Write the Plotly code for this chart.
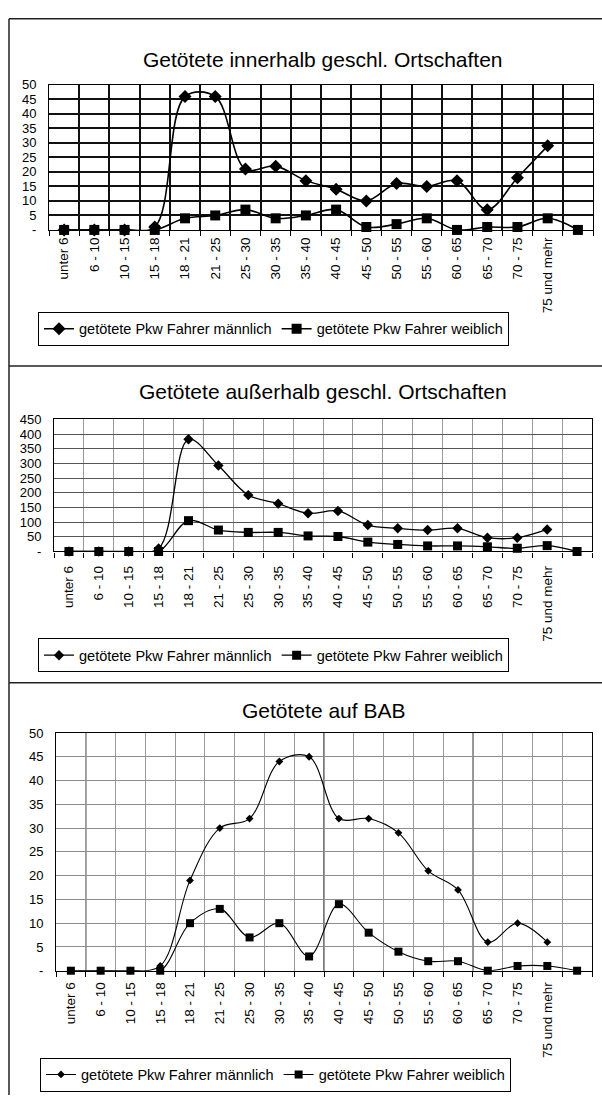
import plotly.graph_objects as go

W, H = 602, 1103
FONT = "Liberation Sans, Arial, sans-serif"

# Age groups (the last slot carries no label)
age_groups = ["unter 6", "6 - 10", "10 - 15", "15 - 18", "18 - 21", "21 - 25",
              "25 - 30", "30 - 35", "35 - 40", "40 - 45", "45 - 50", "50 - 55",
              "55 - 60", "60 - 65", "65 - 70", "70 - 75", "75 und mehr", " "]

# Killed car drivers inside built-up areas
inner_male = [0, 0, 0, 1, 46, 46, 21, 22, 17, 14, 10, 16, 15, 17, 7, 18, 29]
inner_female = [0, 0, 0, 0, 4, 5, 7, 4, 5, 7, 1, 2, 4, 0, 1, 1, 4, 0]

# Killed car drivers outside built-up areas
outer_male = [0, 0, 0, 10, 382, 293, 192, 163, 130, 138, 90, 79, 73, 79, 47, 47, 75]
outer_female = [0, 0, 0, 0, 105, 73, 65, 65, 53, 51, 32, 24, 19, 19, 16, 11, 20, 0]

# Killed car drivers on motorways (BAB)
bab_male = [0, 0, 0, 1, 19, 30, 32, 44, 45, 32, 32, 29, 21, 17, 6, 10, 6]
bab_female = [0, 0, 0, 0, 10, 13, 7, 10, 3, 14, 8, 4, 2, 2, 0, 1, 1, 0]

titles = ["Getötete innerhalb geschl. Ortschaften",
          "Getötete außerhalb geschl. Ortschaften",
          "Getötete auf BAB"]
male_name = "getötete Pkw Fahrer männlich"
female_name = "getötete Pkw Fahrer weiblich"

y_max = [50, 450, 50]
y_step = [5, 50, 5]


def px_x(v):
    return v / W


def px_y(v):
    return 1 - v / H


panels = [
    dict(male=inner_male, female=inner_female, xdom=(49, 593), ydom=(79, 226),
         title_y=53, legend=(38, 309), grid_h="#111", grid_v="#111", gw=1.5,
         msize=(10, 10), lw=1.6, xstand=1),
    dict(male=outer_male, female=outer_female, xdom=(54, 592), ydom=(418, 552),
         title_y=390, legend=(38, 640), grid_h="#555", grid_v="#9a9a9a", gw=1,
         msize=(8, 9), lw=1.3, xstand=8),
    dict(male=bab_male, female=bab_female, xdom=(56, 592), ydom=(736, 977),
         title_y=713, legend=(40, 1065), grid_h="#8c8c8c", grid_v="#9a9a9a", gw=1,
         msize=(6, 8), lw=1.1, xstand=5),
]

fig = go.Figure()
shapes = []
annotations = []

for i, p in enumerate(panels):
    n = "" if i == 0 else str(i + 1)
    xa, ya = "x" + n, "y" + n
    leg = "legend" + n
    fig.add_trace(go.Scatter(
        x=age_groups[:len(p["male"])], y=p["male"], name=male_name,
        mode="lines+markers", line=dict(color="black", width=p["lw"], shape="spline", smoothing=1),
        marker=dict(symbol="diamond", size=p["msize"][0], color="black"),
        xaxis=xa, yaxis=ya, legend=leg, cliponaxis=False))
    fig.add_trace(go.Scatter(
        x=age_groups[:len(p["female"])], y=p["female"], name=female_name,
        mode="lines+markers", line=dict(color="black", width=p["lw"], shape="spline", smoothing=1),
        marker=dict(symbol="square", size=p["msize"][1], color="black"),
        xaxis=xa, yaxis=ya, legend=leg, cliponaxis=False))

    yt = list(range(0, y_max[i] + 1, y_step[i]))
    fig.update_layout(**{
        ("xaxis" + n): dict(
            domain=[px_x(p["xdom"][0]), px_x(p["xdom"][1])], anchor=ya,
            type="category", categoryorder="array", categoryarray=age_groups,
            range=[-0.5, len(age_groups) - 0.5], tickson="boundaries",
            showgrid=True, gridcolor=p["grid_v"], gridwidth=p["gw"],
            showline=True, linecolor="black", linewidth=1.2, mirror=True,
            ticks="outside", ticklen=5, tickcolor="black", tickangle=-90,
            ticklabelstandoff=p["xstand"],
            tickfont=dict(family=FONT, size=13.5, color="black"), fixedrange=True),
        ("yaxis" + n): dict(
            domain=[px_y(p["ydom"][1]), px_y(p["ydom"][0])], anchor=xa,
            range=[0, y_max[i]], tickmode="array", tickvals=yt,
            ticktext=["-" if v == 0 else str(v) for v in yt],
            showgrid=True, gridcolor=p["grid_h"], gridwidth=p["gw"], zeroline=False,
            showline=True, linecolor="black", linewidth=1, mirror=True,
            ticks="", ticklabelstandoff=9,
            tickfont=dict(family=FONT, size=13, color="black"), fixedrange=True),
        leg: dict(
            orientation="h", x=px_x(p["legend"][0]), y=px_y(p["legend"][1]),
            xanchor="left", yanchor="top", bordercolor="black", borderwidth=1,
            bgcolor="white", font=dict(family=FONT, size=14.5, color="black"),
            itemclick=False, itemdoubleclick=False),
    })
    annotations.append(dict(
        text=titles[i], x=px_x(323), y=px_y(p["title_y"]), xref="paper", yref="paper",
        xanchor="center", yanchor="middle", showarrow=False,
        font=dict(family=FONT, size=21, color="black")))

# darker scan lines in the motorway grid
for xb in [0.5, 8.5, 13.5]:
    shapes.append(dict(type="line", xref="x3", yref="y3 domain", x0=xb, x1=xb, y0=0, y1=1,
                       line=dict(color="#222", width=1.2), layer="below"))
shapes.append(dict(type="line", xref="x2", yref="y2 domain", x0=4.5, x1=4.5, y0=0, y1=1,
                   line=dict(color="#222", width=1), layer="below"))

# outer frame and panel separators
frame = dict(color="#222", width=1.5)
shapes.append(dict(type="line", xref="paper", yref="paper", x0=px_x(9), x1=1,
                   y0=px_y(12), y1=px_y(12), line=frame))
shapes.append(dict(type="line", xref="paper", yref="paper", x0=px_x(9), x1=px_x(9),
                   y0=px_y(12), y1=0, line=frame))
for yy in [364, 685]:
    shapes.append(dict(type="line", xref="paper", yref="paper", x0=px_x(9), x1=1,
                       y0=px_y(yy), y1=px_y(yy), line=frame))

fig.update_layout(
    width=W, height=H, margin=dict(l=0, r=0, t=0, b=0),
    paper_bgcolor="white", plot_bgcolor="white",
    font=dict(family=FONT, color="black"),
    shapes=shapes, annotations=annotations, hovermode=False,
)

fig.write_html("out.html", config={"displayModeBar": False})
